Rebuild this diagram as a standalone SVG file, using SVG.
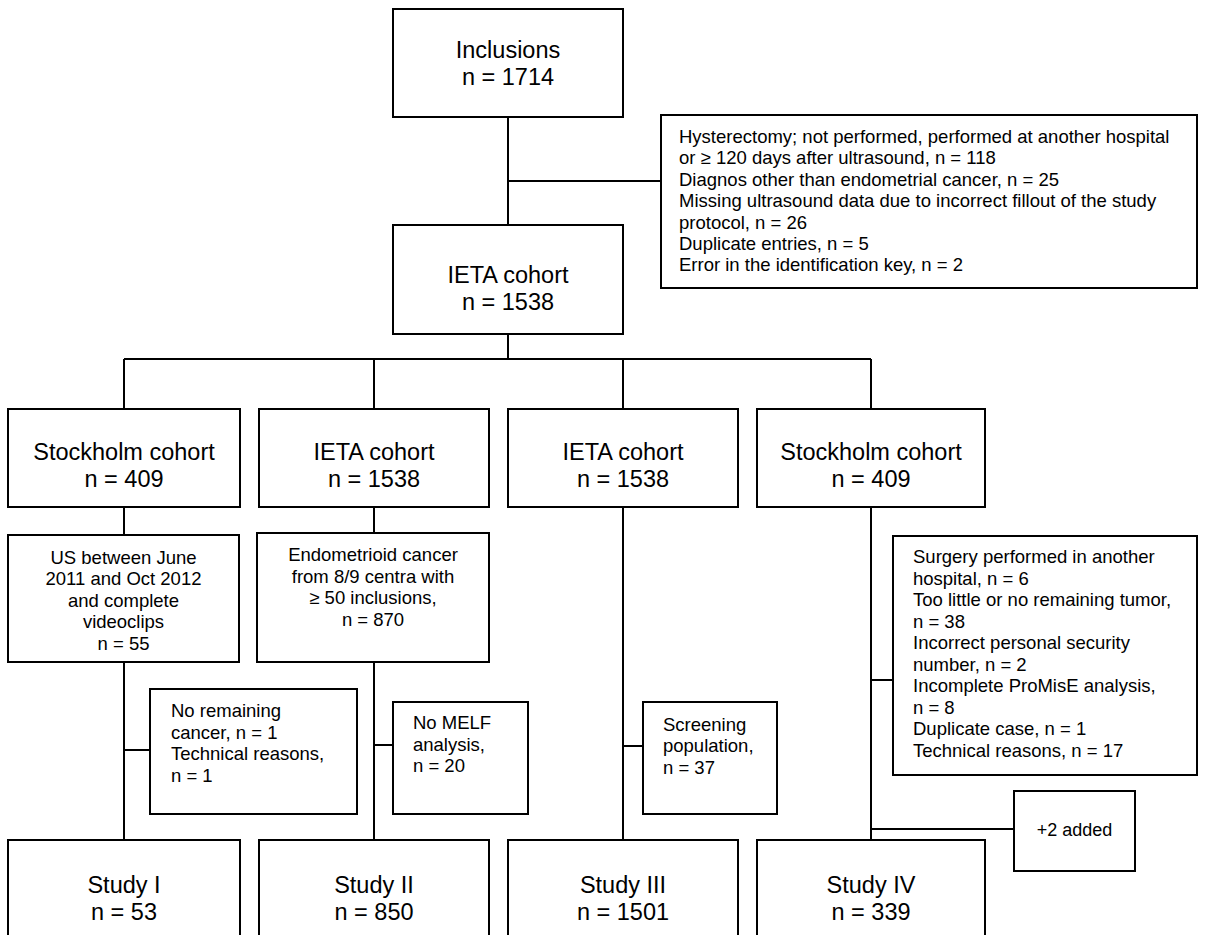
<svg xmlns="http://www.w3.org/2000/svg" width="1206" height="935" viewBox="0 0 1206 935">
<style>
.box{fill:#fff;stroke:#000;stroke-width:2}
.ln{fill:none;stroke:#000;stroke-width:2}
text{font-family:"Liberation Sans",Arial,sans-serif;fill:#000}
.big{font-size:23.5px;text-anchor:middle}
.sm{font-size:18.5px}
.smc{font-size:18.5px;text-anchor:middle}
</style>
<rect width="1206" height="935" fill="#fff"/>
<g id="connectors">
<path class="ln" d="M508,117V225M508,181H661M508,334V359M124,359H871M124,359V409M374,359V409M623,359V409M871,359V409"/>
<path class="ln" d="M124,507V535M124,662V840M124,750H150"/>
<path class="ln" d="M374,507V533M374,662V840M374,745H393"/>
<path class="ln" d="M623,507V840M623,746H643"/>
<path class="ln" d="M871,507V840M871,680H893M871,829H1014"/>
</g>
<g id="inclusions">
<rect class="box" x="393" y="9" width="230" height="108"/>
<text class="big" x="508" y="58">Inclusions</text>
<text class="big" x="508" y="85">n = 1714</text>
</g>
<g id="excl-top">
<rect class="box" x="661" y="115" width="536" height="173"/>
<text class="sm" x="679"><tspan x="679" y="143">Hysterectomy; not performed, performed at another hospital</tspan><tspan x="679" y="164.4">or ≥ 120 days after ultrasound, n = 118</tspan><tspan x="679" y="185.8">Diagnos other than endometrial cancer, n = 25</tspan><tspan x="679" y="207.2">Missing ultrasound data due to incorrect fillout of the study</tspan><tspan x="679" y="228.6">protocol, n = 26</tspan><tspan x="679" y="250">Duplicate entries, n = 5</tspan><tspan x="679" y="271.4">Error in the identification key, n = 2</tspan></text>
</g>
<g id="ieta">
<rect class="box" x="393" y="225" width="230" height="109"/>
<text class="big" x="508" y="283">IETA cohort</text>
<text class="big" x="508" y="310">n = 1538</text>
</g>
<g id="c1">
<rect class="box" x="8" y="409" width="232" height="98"/>
<text class="big" x="124" y="460">Stockholm cohort</text>
<text class="big" x="124" y="487">n = 409</text>
</g>
<g id="c2">
<rect class="box" x="259" y="409" width="230" height="98"/>
<text class="big" x="374" y="460">IETA cohort</text>
<text class="big" x="374" y="487">n = 1538</text>
</g>
<g id="c3">
<rect class="box" x="508" y="409" width="230" height="98"/>
<text class="big" x="623" y="460">IETA cohort</text>
<text class="big" x="623" y="487">n = 1538</text>
</g>
<g id="c4">
<rect class="box" x="757" y="409" width="228" height="98"/>
<text class="big" x="871" y="460">Stockholm cohort</text>
<text class="big" x="871" y="487">n = 409</text>
</g>
<g id="sel1">
<rect class="box" x="8" y="535" width="231" height="127"/>
<text class="smc"><tspan x="123.5" y="563.5">US between June</tspan><tspan x="123.5" y="585">2011 and Oct 2012</tspan><tspan x="123.5" y="606.5">and complete</tspan><tspan x="123.5" y="628">videoclips</tspan><tspan x="123.5" y="649.5">n = 55</tspan></text>
</g>
<g id="sel2">
<rect class="box" x="257" y="533" width="232" height="129"/>
<text class="smc"><tspan x="373" y="561">Endometrioid cancer</tspan><tspan x="373" y="582.5">from 8/9 centra with</tspan><tspan x="373" y="604">≥ 50 inclusions,</tspan><tspan x="373" y="625.5">n = 870</tspan></text>
</g>
<g id="excl4">
<rect class="box" x="893" y="536" width="304" height="239"/>
<text class="sm"><tspan x="913" y="563">Surgery performed in another</tspan><tspan x="913" y="584.5">hospital, n = 6</tspan><tspan x="913" y="606">Too little or no remaining tumor,</tspan><tspan x="913" y="627.5">n = 38</tspan><tspan x="913" y="649">Incorrect personal security</tspan><tspan x="913" y="670.5">number, n = 2</tspan><tspan x="913" y="692">Incomplete ProMisE analysis,</tspan><tspan x="913" y="713.5">n = 8</tspan><tspan x="913" y="735">Duplicate case, n = 1</tspan><tspan x="913" y="756.5">Technical reasons, n = 17</tspan></text>
</g>
<g id="excl1">
<rect class="box" x="150" y="689" width="207" height="125"/>
<text class="sm"><tspan x="171" y="717">No remaining</tspan><tspan x="171" y="738.5">cancer, n = 1</tspan><tspan x="171" y="760">Technical reasons,</tspan><tspan x="171" y="781.5">n = 1</tspan></text>
</g>
<g id="excl2">
<rect class="box" x="393" y="702" width="135" height="112"/>
<text class="sm"><tspan x="413" y="729">No MELF</tspan><tspan x="413" y="750.5">analysis,</tspan><tspan x="413" y="772">n = 20</tspan></text>
</g>
<g id="excl3">
<rect class="box" x="643" y="702" width="134" height="112"/>
<text class="sm"><tspan x="663" y="730.5">Screening</tspan><tspan x="663" y="752">population,</tspan><tspan x="663" y="773.5">n = 37</tspan></text>
</g>
<g id="added">
<rect class="box" x="1014" y="791" width="121" height="80"/>
<text class="smc" x="1074.5" y="836" style="font-size:18px">+2 added</text>
</g>
<g id="s1">
<rect class="box" x="8" y="840" width="232" height="110"/>
<text class="big" x="124" y="893">Study I</text>
<text class="big" x="124" y="920">n = 53</text>
</g>
<g id="s2">
<rect class="box" x="259" y="840" width="230" height="110"/>
<text class="big" x="374" y="893">Study II</text>
<text class="big" x="374" y="920">n = 850</text>
</g>
<g id="s3">
<rect class="box" x="508" y="840" width="230" height="110"/>
<text class="big" x="623" y="893">Study III</text>
<text class="big" x="623" y="920">n = 1501</text>
</g>
<g id="s4">
<rect class="box" x="757" y="840" width="228" height="110"/>
<text class="big" x="871" y="893">Study IV</text>
<text class="big" x="871" y="920">n = 339</text>
</g>
</svg>
